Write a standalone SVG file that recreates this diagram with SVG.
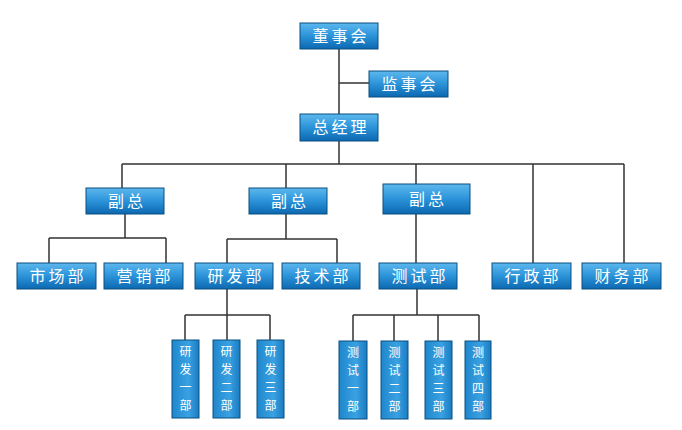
<svg xmlns="http://www.w3.org/2000/svg" width="682" height="430" viewBox="0 0 682 430">
<defs>
<linearGradient id="g" x1="0" y1="0" x2="0" y2="1">
<stop offset="0" stop-color="#5db8ee"/>
<stop offset="0.5" stop-color="#2b93d9"/>
<stop offset="1" stop-color="#0c68b0"/>
</linearGradient>
<linearGradient id="gv" x1="0" y1="0" x2="1" y2="0">
<stop offset="0" stop-color="#1f86cc"/>
<stop offset="0.6" stop-color="#3aa2e2"/>
<stop offset="1" stop-color="#1a7cc2"/>
</linearGradient>
</defs>
<style>
.b{fill:url(#g);stroke:#0b4f80;stroke-width:1}
.v{fill:url(#gv);stroke:#0b4f80;stroke-width:1}
.t{font-family:"Noto Sans CJK SC","Noto Sans",sans-serif;font-size:16px;fill:#fff;text-anchor:middle;letter-spacing:3px}
.tv{font-family:"Noto Sans CJK SC","Noto Sans",sans-serif;font-size:12px;fill:#fff;text-anchor:middle}
.c{stroke:#333;stroke-width:1.5;fill:none}
</style>
<rect width="682" height="430" fill="#fff"/>
<g id="connectors">
<path class="c" d="M339 49V114M339 83H369M339 141V164M122 164H624M122 164V188M286 164V188M416 164V184M533 164V263M624 164V263"/>
<path class="c" d="M125 214V238M49 238H166M49 238V263M166 238V263"/>
<path class="c" d="M286 214V239M227 239H337M227 239V263M337 239V263"/>
<path class="c" d="M416 214V263"/>
<path class="c" d="M227 289V315M185 315H270M185 315V340M227 315V340M270 315V340"/>
<path class="c" d="M417 289V315M353 315H479M353 315V341M394 315V341M438 315V341M479 315V341"/>
</g>
<g id="n1"><rect class="b" x="300" y="23" width="78" height="26"/><text class="t" x="341" y="42">董事会</text></g>
<g id="n2"><rect class="b" x="369" y="71" width="79" height="26"/><text class="t" x="410" y="90">监事会</text></g>
<g id="n3"><rect class="b" x="300" y="114" width="78" height="27"/><text class="t" x="341" y="133">总经理</text></g>
<g id="n4"><rect class="b" x="86" y="188" width="78" height="26"/><text class="t" x="127" y="207">副总</text></g>
<g id="n5"><rect class="b" x="249" y="188" width="78" height="26"/><text class="t" x="290" y="207">副总</text></g>
<g id="n6"><rect class="b" x="383" y="184" width="87" height="30"/><text class="t" x="428" y="205">副总</text></g>
<g id="n7"><rect class="b" x="17" y="263" width="79" height="26"/><text class="t" x="58" y="282">市场部</text></g>
<g id="n8"><rect class="b" x="104" y="263" width="79" height="26"/><text class="t" x="145" y="282">营销部</text></g>
<g id="n9"><rect class="b" x="195" y="263" width="78" height="26"/><text class="t" x="236" y="282">研发部</text></g>
<g id="n10"><rect class="b" x="282" y="263" width="78" height="26"/><text class="t" x="323" y="282">技术部</text></g>
<g id="n11"><rect class="b" x="379" y="263" width="78" height="26"/><text class="t" x="420" y="282">测试部</text></g>
<g id="n12"><rect class="b" x="492" y="263" width="79" height="26"/><text class="t" x="533" y="282">行政部</text></g>
<g id="n13"><rect class="b" x="582" y="263" width="79" height="26"/><text class="t" x="623" y="282">财务部</text></g>
<g id="n14"><rect class="v" x="172" y="340" width="27" height="78"/><text class="tv"><tspan x="185.5" y="356">研</tspan><tspan x="185.5" y="374">发</tspan><tspan x="185.5" y="392">一</tspan><tspan x="185.5" y="410">部</tspan></text></g>
<g id="n15"><rect class="v" x="213" y="340" width="27" height="78"/><text class="tv"><tspan x="226.5" y="356">研</tspan><tspan x="226.5" y="374">发</tspan><tspan x="226.5" y="392">二</tspan><tspan x="226.5" y="410">部</tspan></text></g>
<g id="n16"><rect class="v" x="257" y="340" width="27" height="78"/><text class="tv"><tspan x="270.5" y="356">研</tspan><tspan x="270.5" y="374">发</tspan><tspan x="270.5" y="392">三</tspan><tspan x="270.5" y="410">部</tspan></text></g>
<g id="n17"><rect class="v" x="339" y="341" width="28" height="78"/><text class="tv"><tspan x="353" y="357">测</tspan><tspan x="353" y="375">试</tspan><tspan x="353" y="393">一</tspan><tspan x="353" y="411">部</tspan></text></g>
<g id="n18"><rect class="v" x="381" y="341" width="27" height="78"/><text class="tv"><tspan x="394.5" y="357">测</tspan><tspan x="394.5" y="375">试</tspan><tspan x="394.5" y="393">二</tspan><tspan x="394.5" y="411">部</tspan></text></g>
<g id="n19"><rect class="v" x="425" y="341" width="27" height="78"/><text class="tv"><tspan x="438.5" y="357">测</tspan><tspan x="438.5" y="375">试</tspan><tspan x="438.5" y="393">三</tspan><tspan x="438.5" y="411">部</tspan></text></g>
<g id="n20"><rect class="v" x="465" y="341" width="26" height="78"/><text class="tv"><tspan x="478" y="357">测</tspan><tspan x="478" y="375">试</tspan><tspan x="478" y="393">四</tspan><tspan x="478" y="411">部</tspan></text></g>
</svg>
